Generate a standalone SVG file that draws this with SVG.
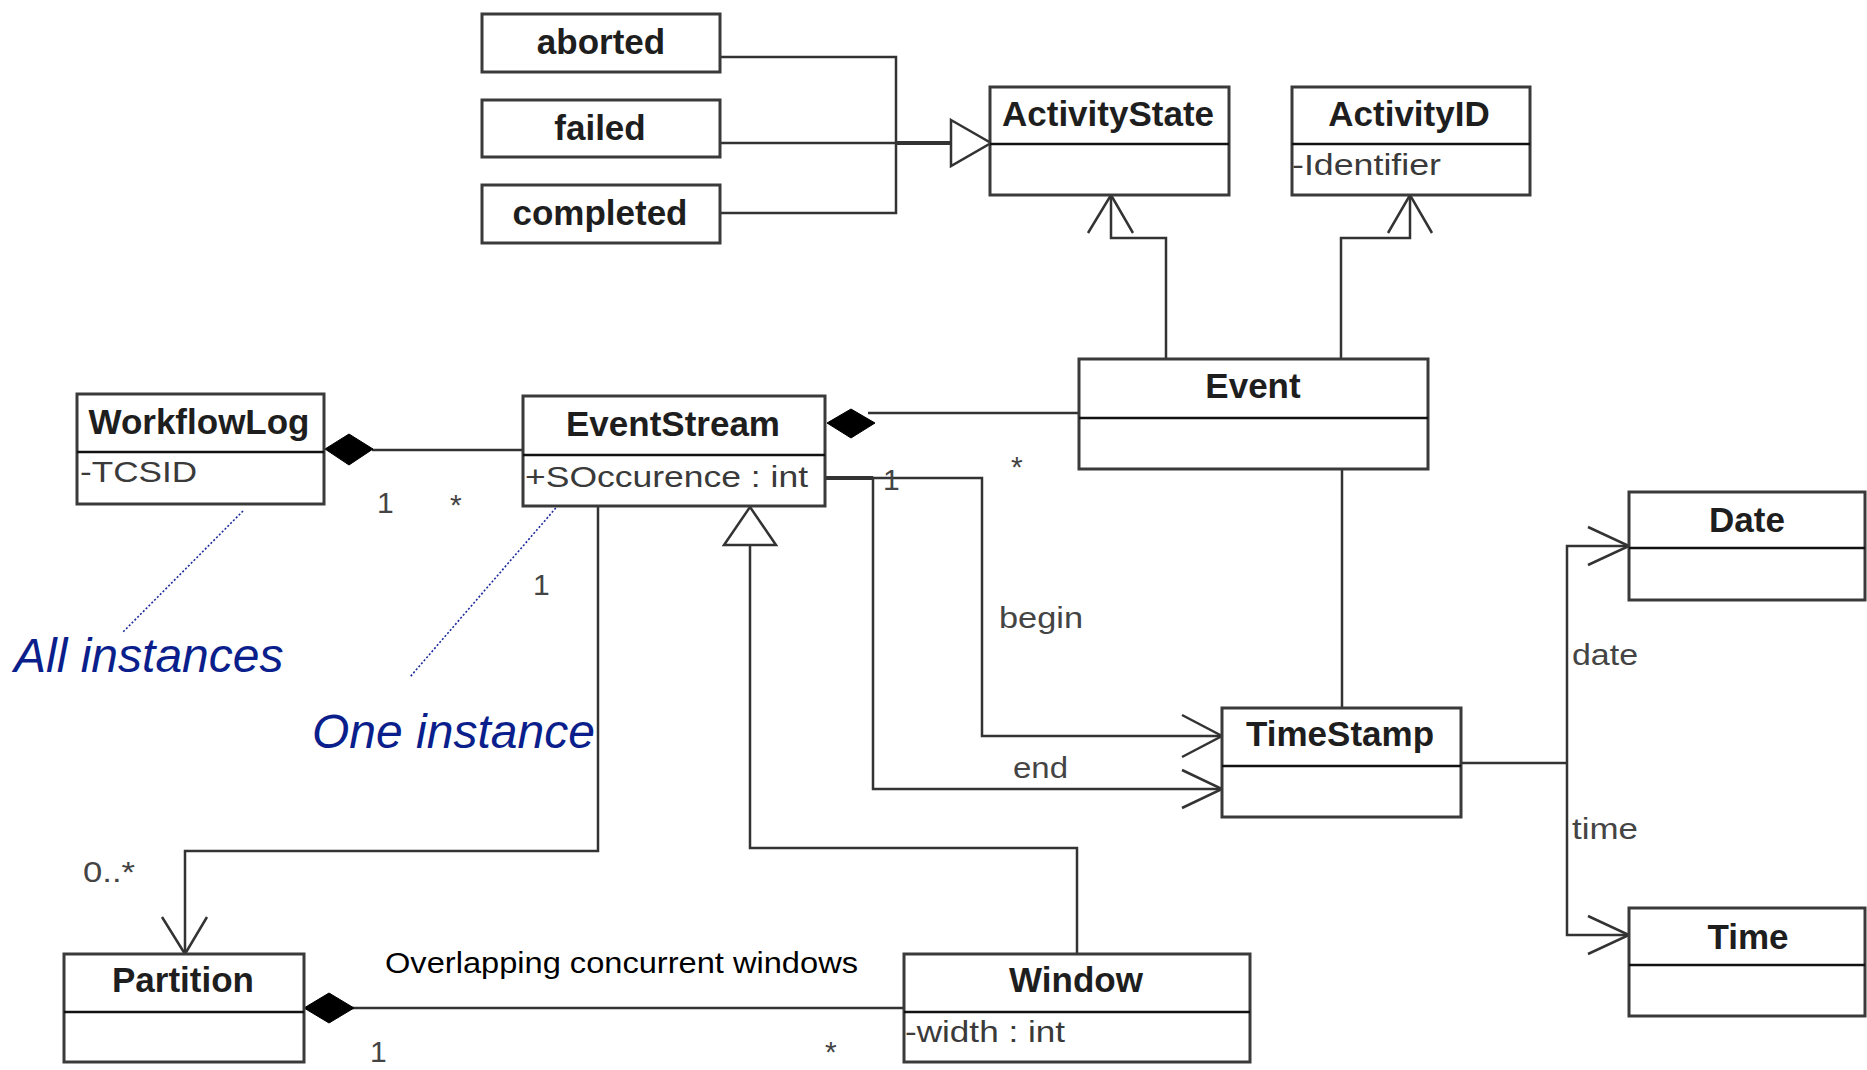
<svg xmlns="http://www.w3.org/2000/svg" width="1867" height="1070" viewBox="0 0 1867 1070">
<style>
.bg{fill:#fff}
.box{fill:#fff;stroke:#3a3a3a;stroke-width:3}
.dv{stroke:#111;stroke-width:2.5}
.t{font-family:"Liberation Sans",Arial,sans-serif;font-weight:bold;font-size:35px;fill:#1e1e1e;text-anchor:middle}
.a{font-family:"Liberation Sans",Arial,sans-serif;font-size:30px;fill:#3a3a3a}
.l{font-family:"Liberation Sans",Arial,sans-serif;font-size:30px;fill:#444}
.c path,.c line{fill:none;stroke:#333;stroke-width:2.5}
.c .dia{fill:#000;stroke:#000;stroke-width:1}
.c .tri{fill:#fff;stroke:#333;stroke-width:2.5}
.c .dot{stroke:#1a2a9c;stroke-width:1.6;stroke-dasharray:2 2}
.n{font-family:"Liberation Sans",Arial,sans-serif;font-style:italic;font-size:48px;fill:#0a1e8c}
.o{font-family:"Liberation Sans",Arial,sans-serif;font-size:30px;fill:#000}
</style>
<rect class="bg" x="0" y="0" width="1867" height="1070"/>

<g id="connectors" class="c">
  <!-- generalization states -> ActivityState -->
  <path d="M720,57 H896 V213 H720"/>
  <path d="M720,143 H951"/>
  <path d="M896,143 H951" style="stroke-width:4"/>
  <path class="tri" d="M951,120 L991,143 L951,166 Z"/>
  <!-- Event -> ActivityState -->
  <path d="M1166,359 V238 H1111 V195"/>
  <path d="M1088,233 L1111,195 L1133,233"/>
  <!-- Event -> ActivityID -->
  <path d="M1341,359 V238 H1410 V195"/>
  <path d="M1388,233 L1410,195 L1432,233"/>
  <!-- WorkflowLog composition EventStream -->
  <path d="M372,450 H523"/>
  <path class="dia" d="M325,449 L349,434 L373,449 L349,465 Z"/>
  <!-- EventStream composition Event -->
  <path d="M868,413 H1079"/>
  <path class="dia" d="M827,423 L851,409 L875,423 L851,438 Z"/>
  <!-- begin / end -->
  <path d="M825,478 H982 V736 H1222"/>
  <path d="M1182,715 L1222,736 L1182,757"/>
  <path d="M825,478 H873 V789 H1222"/>
  <path d="M825,478 H873" style="stroke-width:4"/>
  <path d="M1182,770 L1222,789 L1182,808"/>
  <!-- Event - TimeStamp -->
  <path d="M1342,469 V708"/>
  <!-- TimeStamp -> Date / Time -->
  <path d="M1461,763 H1567"/>
  <path d="M1629,546 H1567 V935 H1629"/>
  <path d="M1588,527 L1629,546 L1588,565"/>
  <path d="M1588,916 L1629,935 L1588,954"/>
  <!-- EventStream -> Partition -->
  <path d="M598,506 V851 H185 V954"/>
  <path d="M162,917 L185,954 L207,917"/>
  <!-- Window -> EventStream generalization -->
  <path d="M1077,954 V848 H750 V545"/>
  <path class="tri" d="M750,507 L776,545 L724,545 Z"/>
  <!-- Partition composition Window -->
  <path d="M352,1008 H904"/>
  <path class="dia" d="M304,1008 L329,993 L354,1008 L329,1023 Z"/>
  <!-- annotation dotted lines -->
  <line class="dot" x1="243" y1="511" x2="123" y2="632"/>
  <line class="dot" x1="561" y1="502" x2="410" y2="677"/>
  <!-- labels -->
  <text class="l" x="377" y="513">1</text>
  <text class="l" x="450" y="515">*</text>
  <text class="l" x="533" y="595">1</text>
  <text class="l" x="1011" y="477">*</text>
  <text class="l" x="883" y="490">1</text>
  <text class="l" x="999" y="628" textLength="84" lengthAdjust="spacingAndGlyphs">begin</text>
  <text class="l" x="1013" y="778" textLength="55" lengthAdjust="spacingAndGlyphs">end</text>
  <text class="l" x="1572" y="665" textLength="66" lengthAdjust="spacingAndGlyphs">date</text>
  <text class="l" x="1572" y="839" textLength="66" lengthAdjust="spacingAndGlyphs">time</text>
  <text class="l" x="83" y="882" textLength="52" lengthAdjust="spacingAndGlyphs">0..*</text>
  <text class="l" x="370" y="1062">1</text>
  <text class="l" x="825" y="1062">*</text>
  <text class="o" x="385" y="973" textLength="473" lengthAdjust="spacingAndGlyphs">Overlapping concurrent windows</text>
</g>

<g id="aborted"><rect class="box" x="482" y="14" width="238" height="58"/><text class="t" x="601" y="54">aborted</text></g>
<g id="failed"><rect class="box" x="482" y="100" width="238" height="57"/><text class="t" x="600" y="140">failed</text></g>
<g id="completed"><rect class="box" x="482" y="185" width="238" height="58"/><text class="t" x="600" y="225">completed</text></g>

<g id="ActivityState"><rect class="box" x="990" y="87" width="239" height="108"/><line class="dv" x1="990" y1="144" x2="1229" y2="144"/><text class="t" x="1108" y="126">ActivityState</text></g>
<g id="ActivityID"><rect class="box" x="1292" y="87" width="238" height="108"/><line class="dv" x1="1292" y1="144" x2="1530" y2="144"/><text class="t" x="1409" y="126">ActivityID</text><text class="a" x="1292" y="175" textLength="149" lengthAdjust="spacingAndGlyphs">-Identifier</text></g>

<g id="Event"><rect class="box" x="1079" y="359" width="349" height="110"/><line class="dv" x1="1079" y1="418" x2="1428" y2="418"/><text class="t" x="1253" y="398">Event</text></g>

<g id="WorkflowLog"><rect class="box" x="77" y="394" width="247" height="110"/><line class="dv" x1="77" y1="452" x2="324" y2="452"/><text class="t" x="199" y="434">WorkflowLog</text><text class="a" x="80" y="482" textLength="117" lengthAdjust="spacingAndGlyphs">-TCSID</text></g>

<g id="EventStream"><rect class="box" x="523" y="396" width="302" height="110"/><line class="dv" x1="523" y1="455" x2="825" y2="455"/><text class="t" x="673" y="436">EventStream</text><text class="a" x="525" y="487" textLength="283" lengthAdjust="spacingAndGlyphs">+SOccurence : int</text></g>

<g id="Date"><rect class="box" x="1629" y="492" width="236" height="108"/><line class="dv" x1="1629" y1="548" x2="1865" y2="548"/><text class="t" x="1747" y="532">Date</text></g>

<g id="TimeStamp"><rect class="box" x="1222" y="708" width="239" height="109"/><line class="dv" x1="1222" y1="766" x2="1461" y2="766"/><text class="t" x="1340" y="746">TimeStamp</text></g>

<g id="Time"><rect class="box" x="1629" y="908" width="236" height="108"/><line class="dv" x1="1629" y1="965" x2="1865" y2="965"/><text class="t" x="1748" y="949">Time</text></g>

<g id="Partition"><rect class="box" x="64" y="954" width="240" height="108"/><line class="dv" x1="64" y1="1012" x2="304" y2="1012"/><text class="t" x="183" y="992">Partition</text></g>

<g id="Window"><rect class="box" x="904" y="954" width="346" height="108"/><line class="dv" x1="904" y1="1012" x2="1250" y2="1012"/><text class="t" x="1076" y="992">Window</text><text class="a" x="905" y="1042" textLength="160" lengthAdjust="spacingAndGlyphs">-width : int</text></g>

<g id="notes">
  <text class="n" x="14" y="672">All instances</text>
  <text class="n" x="312" y="748">One instance</text>
</g>
</svg>
